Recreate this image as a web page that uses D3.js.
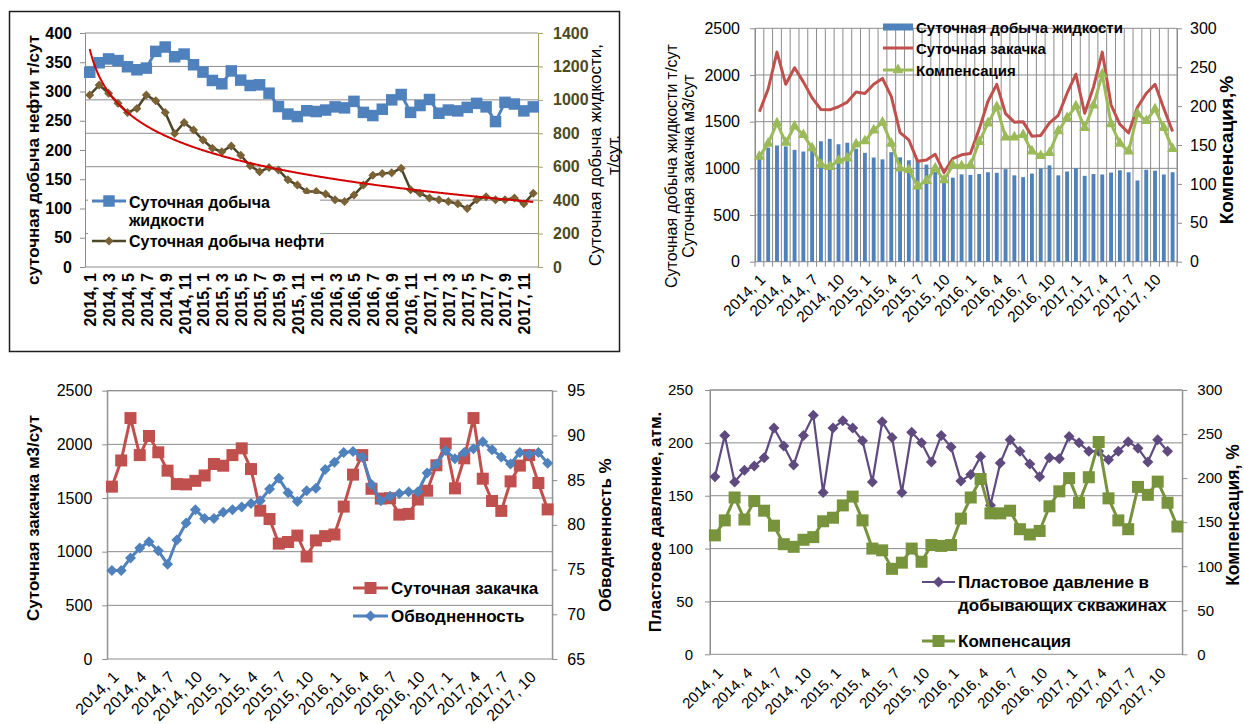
<!DOCTYPE html>
<html>
<head>
<meta charset="utf-8">
<script src="https://cdn.jsdelivr.net/npm/d3@7"></script>
<style>
  body { margin: 0; background: #fff; }
  svg { display: block; }
</style>
</head>
<body>
<svg id="chart" width="1244" height="724"></svg>
<script>
// ---- Data: monthly field indicators, January 2014 – December 2017 ----
const years = [2014, 2015, 2016, 2017];
const monthNumbers = [1, 2, 3, 4, 5, 6, 7, 8, 9, 10, 11, 12];
const categories = years.flatMap(y => monthNumbers.map(m => `${y}, ${m}`));

// Daily liquid production, t/day
const liquidRate = [1165, 1222, 1245, 1235, 1198, 1180, 1190, 1290, 1316, 1258, 1274, 1210,
                    1166, 1116, 1096, 1173, 1118, 1086, 1090, 1040, 960, 915, 900, 935,
                    930, 939, 958, 952, 991, 925, 906, 944, 1000, 1032, 925, 966,
                    1002, 920, 939, 934, 955, 979, 958, 870, 985, 975, 934, 958];
// Daily oil production, t/day
const oilRate = [294, 311, 297, 280, 264, 271, 294, 284, 264, 228, 247, 234,
                 217, 203, 197, 207, 191, 173, 163, 170, 166, 149, 140, 129,
                 129, 125, 115, 112, 123, 140, 157, 160, 161, 169, 132, 126,
                 118, 115, 112, 108, 100, 115, 120, 115, 115, 118, 108, 126];
// Daily water injection, m3/day
const injectionRate = [1606, 1850, 2245, 1900, 2078, 1926, 1755, 1630, 1627, 1660, 1710, 1817,
                       1801, 1900, 1963, 1770, 1382, 1304, 1075, 1090, 1150, 955, 1105, 1145,
                       1160, 1420, 1718, 1900, 1586, 1495, 1498, 1345, 1352, 1486, 1568, 1805,
                       2008, 1590, 1870, 2245, 1680, 1472, 1380, 1655, 1802, 1900, 1640, 1394];
// Voidage compensation, %
const compensation = [135, 152, 178, 153, 174, 163, 146, 125, 122, 130, 133, 151,
                      155, 169, 179, 152, 120, 118, 97, 104, 120, 105, 124, 123,
                      124, 154, 178, 199, 160, 160, 163, 142, 136, 140, 168, 185,
                      200, 172, 201, 241, 177, 152, 142, 190, 181, 196, 172, 145];
// Water cut, %
const waterCut = [74.9, 74.9, 76.3, 77.4, 78.1, 77.1, 75.6, 78.3, 80.2, 81.7, 80.7, 80.7,
                  81.4, 81.7, 82.0, 82.4, 82.7, 84.0, 85.2, 83.6, 82.6, 83.8, 84.1, 86.2,
                  87.0, 88.1, 88.2, 87.6, 84.5, 82.7, 83.2, 83.5, 83.7, 83.7, 85.8, 86.8,
                  88.3, 87.4, 88.1, 88.5, 89.3, 88.4, 87.6, 86.8, 88.1, 87.9, 88.1, 86.9];
// Reservoir pressure in producing wells, atm (no December 2017 measurement)
const reservoirPressure = [168, 207, 163, 174, 178, 186, 214, 197, 179, 207, 226, 153,
                           214, 221, 214, 202, 163, 220, 205, 153, 210, 200, 182, 207,
                           196, 164, 170, 187, 141, 181, 203, 192, 180, 168, 186, 185,
                           206, 200, 192, 192, 184, 192, 201, 195, 182, 203, 192, null];

// Axis tick values
const p1LeftTicks = [0, 50, 100, 150, 200, 250, 300, 350, 400];
const p1RightTicks = [0, 200, 400, 600, 800, 1000, 1200, 1400];
const p2LeftTicks = [0, 500, 1000, 1500, 2000, 2500];
const p2RightTicks = [0, 50, 100, 150, 200, 250, 300];
const p3LeftTicks = [0, 500, 1000, 1500, 2000, 2500];
const p3RightTicks = [65, 70, 75, 80, 85, 90, 95];
const p4LeftTicks = [0, 50, 100, 150, 200, 250];
const p4RightTicks = [0, 50, 100, 150, 200, 250, 300];

// ---- Styling ----
const FONT = "'Liberation Sans', Arial, sans-serif";
const GRID = '#8c8c8c';
const BLUE = '#4f81bd', RED = '#c0504d', LIGHT_GREEN = '#9bbb59';
const DARK_GREEN = '#77933c', PURPLE = '#5f4a80';
const OIL_MARK = '#7b6235', OIL_LINE = '#4e4628', TREND = '#d40000';
const plain = d3.format('d');

const svg = d3.select('#chart');

function label(g, x, y, s, o = {}) {
  const t = g.append('text').attr('x', x).attr('y', y).text(s)
    .attr('font-family', FONT).attr('font-size', o.size || 15)
    .attr('font-weight', o.bold ? 'bold' : 'normal')
    .attr('fill', o.color || '#000')
    .attr('text-anchor', o.anchor || 'start')
    .attr('dominant-baseline', 'central');
  if (o.rotate) t.attr('transform', `rotate(${o.rotate},${x},${y})`);
  return t;
}

function styleAxis(sel, o) {
  sel.attr('font-family', null).attr('font-size', null);
  sel.select('.domain').attr('stroke', o.line || GRID).attr('stroke-width', 1);
  sel.selectAll('.tick line').attr('stroke', o.line || GRID);
  sel.selectAll('.tick text').attr('font-family', FONT).attr('font-size', o.size)
    .attr('font-weight', o.bold ? 'bold' : 'normal').attr('fill', o.color || '#000');
}

function axis(g, gen, pos, ticks, pad, o) {
  styleAxis(g.append('g').attr('transform', `translate(${pos},0)`)
    .call(gen.tickValues(ticks).tickFormat(plain).tickSize(5).tickSizeOuter(0).tickPadding(pad)), o);
}

const diamondPath = r => `M0,${-r}L${r},0L0,${r}L${-r},0Z`;
const squarePath = s => `M${-s / 2},${-s / 2}h${s}v${s}h${-s}Z`;
const trianglePath = s => `M0,${-s * 0.58}L${s / 2},${s * 0.29}L${-s / 2},${s * 0.29}Z`;

function series(g, x, y, values, o) {
  const pts = values.map((v, i) => ({ i, v })).filter(d => d.v != null);
  const cx = i => x(i) + x.bandwidth() / 2;
  g.append('path').datum(pts)
    .attr('d', d3.line().x(d => cx(d.i)).y(d => y(d.v)))
    .attr('fill', 'none').attr('stroke', o.line).attr('stroke-width', o.width)
    .attr('stroke-linejoin', 'round');
  if (o.marker) {
    g.selectAll(null).data(pts).join('path')
      .attr('transform', d => `translate(${cx(d.i)},${y(d.v)})`)
      .attr('d', o.marker).attr('fill', o.fill);
  }
}

function legendEntry(g, x1, x2, y, o) {
  g.append('line').attr('x1', x1).attr('x2', x2).attr('y1', y).attr('y2', y)
    .attr('stroke', o.line).attr('stroke-width', o.width);
  if (o.marker) g.append('path').attr('transform', `translate(${(x1 + x2) / 2},${y})`)
    .attr('d', o.marker).attr('fill', o.fill);
}

// ================= Panel 1: oil and liquid production =================
{
  const g = svg.append('g');
  g.append('rect').attr('x', 9.5).attr('y', 11.5).attr('width', 610).attr('height', 340)
    .attr('fill', 'none').attr('stroke', '#1e1e1e').attr('stroke-width', 1.5);
  const L = 85, R = 538, T = 33, B = 267;
  const x = d3.scaleBand().domain(d3.range(categories.length)).range([L, R]);
  const yL = d3.scaleLinear().domain([0, 400]).range([B, T]);
  const yR = d3.scaleLinear().domain([0, 1400]).range([B, T]);

  g.selectAll(null).data(p1RightTicks.slice(1)).join('line')
    .attr('x1', L).attr('x2', R).attr('y1', d => yR(d)).attr('y2', d => yR(d))
    .attr('stroke', GRID);
  g.append('line').attr('x1', L).attr('x2', R).attr('y1', B).attr('y2', B).attr('stroke', GRID);

  axis(g, d3.axisLeft(yL), L, p1LeftTicks, 8, { size: 16, bold: true });
  axis(g, d3.axisRight(yR), R, p1RightTicks, 10, { size: 16, bold: true, color: '#4d4a1e', line: '#a3a06a' });

  // liquid on the right axis
  series(g, x, yR, liquidRate, { line: BLUE, width: 3, marker: squarePath(11.5), fill: BLUE });
  // oil on the left axis
  series(g, x, yL, oilRate, { line: OIL_LINE, width: 2.5, marker: diamondPath(4.5), fill: OIL_MARK });

  // logarithmic trend of oil production (least squares on ln of month number)
  const lx = oilRate.map((_, i) => Math.log(i + 1));
  const mx = d3.mean(lx), my = d3.mean(oilRate);
  const slope = d3.sum(lx, (v, i) => (v - mx) * (oilRate[i] - my)) / d3.sum(lx, v => (v - mx) ** 2);
  const icpt = my - slope * mx;
  const step = x.step(), x0 = x(0) + x.bandwidth() / 2;
  const tSamples = d3.range(0, oilRate.length - 1 + 1e-9, 0.1);
  g.append('path').datum(tSamples)
    .attr('d', d3.line().x(t => x0 + t * step).y(t => yL(icpt + slope * Math.log(t + 1))))
    .attr('fill', 'none').attr('stroke', TREND).attr('stroke-width', 2);

  // x labels, vertical
  categories.forEach((c, i) => {
    if (i % 2) return;
    label(g, x(i) + x.bandwidth() / 2 + 1, B + 6, c, { size: 16, bold: true, anchor: 'end', rotate: -90 });
  });

  // legend
  g.append('rect').attr('x', 88).attr('y', 194).attr('width', 232).attr('height', 58).attr('fill', '#fff');
  legendEntry(g, 92, 126, 201, { line: BLUE, width: 3, marker: squarePath(11.5), fill: BLUE });
  label(g, 129, 202, 'Суточная добыча', { size: 16, bold: true });
  label(g, 129, 220, 'жидкости', { size: 16, bold: true });
  legendEntry(g, 92, 126, 241, { line: OIL_LINE, width: 2.5, marker: diamondPath(4.5), fill: OIL_MARK });
  label(g, 129, 241, 'Суточная добыча нефти', { size: 16, bold: true });

  label(g, 33, 160, 'суточная добыча нефти т/сут', { size: 17, bold: true, anchor: 'middle', rotate: -90 });
  label(g, 595, 155, 'Суточная добыча жидкости,', { size: 17, anchor: 'middle', rotate: -90 });
  label(g, 613, 155, 'т/сут.', { size: 17, anchor: 'middle', rotate: -90 });
}

// ================= Panel 2: liquid, injection, compensation =================
{
  const g = svg.append('g');
  const L = 755, R = 1177, T = 28.3, B = 261.7;
  const x = d3.scaleBand().domain(d3.range(categories.length)).range([L, R]).paddingInner(0.56).paddingOuter(0.28);
  const xs = d3.scaleBand().domain(d3.range(categories.length)).range([L, R]);
  const yL = d3.scaleLinear().domain([0, 2500]).range([B, T]);
  const yR = d3.scaleLinear().domain([0, 300]).range([B, T]);

  g.selectAll(null).data(p2LeftTicks.slice(1)).join('line')
    .attr('x1', L).attr('x2', R).attr('y1', d => yL(d)).attr('y2', d => yL(d)).attr('stroke', GRID);
  g.selectAll(null).data(d3.range(categories.length + 1)).join('line')
    .attr('x1', k => L + k * xs.step()).attr('x2', k => L + k * xs.step())
    .attr('y1', T).attr('y2', B + 5).attr('stroke', GRID);
  g.append('line').attr('x1', L).attr('x2', R).attr('y1', B).attr('y2', B).attr('stroke', GRID);

  axis(g, d3.axisLeft(yL), L, p2LeftTicks, 10, { size: 16 });
  axis(g, d3.axisRight(yR), R, p2RightTicks, 8, { size: 16 });

  g.selectAll(null).data(liquidRate).join('rect')
    .attr('x', (d, i) => x(i)).attr('width', x.bandwidth())
    .attr('y', d => yL(d)).attr('height', d => B - yL(d)).attr('fill', BLUE);

  series(g, xs, yL, injectionRate, { line: RED, width: 3 });
  series(g, xs, yR, compensation, { line: LIGHT_GREEN, width: 3, marker: trianglePath(11), fill: LIGHT_GREEN });

  categories.forEach((c, i) => {
    if (i % 3) return;
    label(g, xs(i) + xs.bandwidth() / 2 + 3, B + 15, c, { size: 15.5, anchor: 'end', rotate: -45 });
  });

  // legend
  g.append('rect').attr('x', 883).attr('y', 23.5).attr('width', 30).attr('height', 7).attr('fill', BLUE);
  label(g, 916, 27, 'Суточная добыча жидкости', { size: 15, bold: true });
  legendEntry(g, 883, 913, 48, { line: RED, width: 3 });
  label(g, 916, 48, 'Суточная закачка', { size: 15, bold: true });
  legendEntry(g, 883, 913, 70, { line: LIGHT_GREEN, width: 3, marker: trianglePath(11), fill: LIGHT_GREEN });
  label(g, 916, 70, 'Компенсация', { size: 15, bold: true });

  label(g, 671, 166, 'Суточная добыча жидкости т/сут', { size: 16, anchor: 'middle', rotate: -90 });
  label(g, 688, 166, 'Суточная закачка м3/сут', { size: 16, anchor: 'middle', rotate: -90 });
  label(g, 1226, 150, 'Компенсация,%', { size: 19, bold: true, anchor: 'middle', rotate: -90 });
}

// ================= Panel 3: injection and water cut =================
{
  const g = svg.append('g');
  const L = 107.3, R = 552.3, T = 390.7, B = 659;
  const x = d3.scaleBand().domain(d3.range(categories.length)).range([L, R]);
  const yL = d3.scaleLinear().domain([0, 2500]).range([B, T]);
  const yR = d3.scaleLinear().domain([65, 95]).range([B, T]);

  g.selectAll(null).data(p3LeftTicks.slice(1)).join('line')
    .attr('x1', L).attr('x2', R).attr('y1', d => yL(d)).attr('y2', d => yL(d)).attr('stroke', GRID);
  g.append('rect').attr('x', L).attr('y', T).attr('width', R - L).attr('height', B - T)
    .attr('fill', 'none').attr('stroke', GRID);

  axis(g, d3.axisLeft(yL), L, p3LeftTicks, 10, { size: 16 });
  axis(g, d3.axisRight(yR), R, p3RightTicks, 10, { size: 16 });

  series(g, x, yL, injectionRate, { line: RED, width: 3, marker: squarePath(12), fill: RED });
  series(g, x, yR, waterCut, { line: BLUE, width: 3, marker: diamondPath(5.5), fill: BLUE });

  categories.forEach((c, i) => {
    if (i % 3) return;
    label(g, x(i) + x.bandwidth() / 2 + 4, B + 15, c, { size: 16, anchor: 'end', rotate: -45 });
  });

  legendEntry(g, 353, 388, 588, { line: RED, width: 3, marker: squarePath(12), fill: RED });
  label(g, 391, 588, 'Суточная закачка', { size: 17, bold: true });
  legendEntry(g, 353, 388, 616, { line: BLUE, width: 3, marker: diamondPath(5.5), fill: BLUE });
  label(g, 391, 616, 'Обводненность', { size: 17, bold: true });

  label(g, 33, 518, 'Суточная закачка м3/сут', { size: 17, bold: true, anchor: 'middle', rotate: -90 });
  label(g, 605, 535, 'Обводненность %', { size: 17, bold: true, anchor: 'middle', rotate: -90 });
}

// ================= Panel 4: reservoir pressure and compensation =================
{
  const g = svg.append('g');
  const L = 710, R = 1182.3, T = 390, B = 654.3;
  const x = d3.scaleBand().domain(d3.range(categories.length)).range([L, R]);
  const yL = d3.scaleLinear().domain([0, 250]).range([B, T]);
  const yR = d3.scaleLinear().domain([0, 300]).range([B, T]);

  g.selectAll(null).data(p4LeftTicks.slice(1)).join('line')
    .attr('x1', L).attr('x2', R).attr('y1', d => yL(d)).attr('y2', d => yL(d)).attr('stroke', GRID);
  g.append('rect').attr('x', L).attr('y', T).attr('width', R - L).attr('height', B - T)
    .attr('fill', 'none').attr('stroke', GRID);

  axis(g, d3.axisLeft(yL), L, p4LeftTicks, 12, { size: 15 });
  axis(g, d3.axisRight(yR), R, p4RightTicks, 10, { size: 15 });

  series(g, x, yL, reservoirPressure, { line: PURPLE, width: 2.2, marker: diamondPath(5.5), fill: PURPLE });
  series(g, x, yR, compensation, { line: DARK_GREEN, width: 3, marker: squarePath(12), fill: DARK_GREEN });

  categories.forEach((c, i) => {
    if (i % 3) return;
    label(g, x(i) + x.bandwidth() / 2 + 5, B + 16, c, { size: 15, anchor: 'end', rotate: -45 });
  });

  legendEntry(g, 922, 955, 582, { line: PURPLE, width: 2.2, marker: diamondPath(5.5), fill: PURPLE });
  label(g, 958, 582, 'Пластовое давление в', { size: 17, bold: true });
  label(g, 958, 605, 'добывающих скважинах', { size: 17, bold: true });
  legendEntry(g, 922, 955, 641, { line: DARK_GREEN, width: 3, marker: squarePath(12), fill: DARK_GREEN });
  label(g, 958, 641, 'Компенсация', { size: 17, bold: true });

  label(g, 655, 522, 'Пластовое давление, атм.', { size: 17, bold: true, anchor: 'middle', rotate: -90 });
  label(g, 1233, 515, 'Компенсация, %', { size: 17.5, bold: true, anchor: 'middle', rotate: -90 });
}
</script>
</body>
</html>
